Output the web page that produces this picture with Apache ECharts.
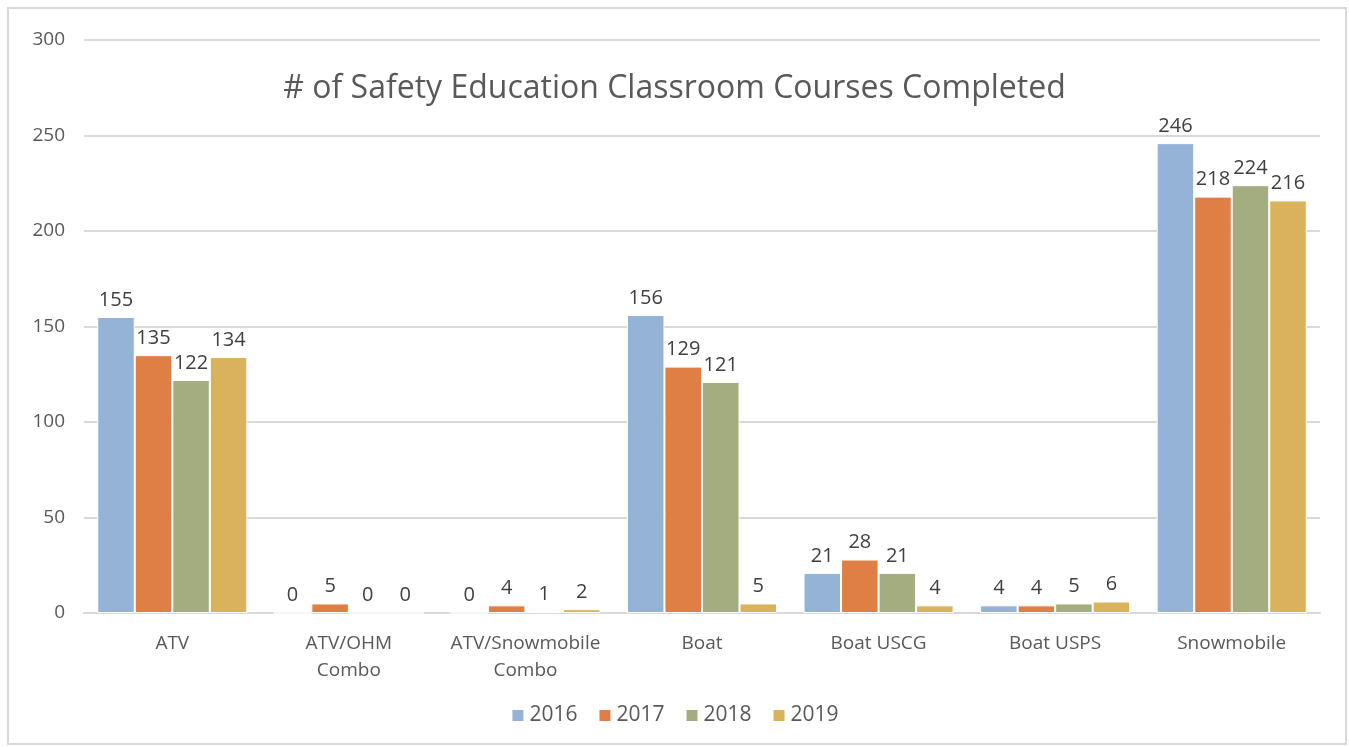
<!DOCTYPE html>
<html>
<head>
<meta charset="utf-8">
<script src="https://cdn.jsdelivr.net/npm/echarts@6/dist/echarts.min.js"></script>
<style>
  html, body { margin: 0; padding: 0; background: #fff; }
  #main { width: 1349px; height: 747px; }
</style>
</head>
<body>
<div id="main"></div>
<script>
// 类目与各年数据
var categories = ['ATV', 'ATV/OHM\nCombo', 'ATV/Snowmobile\nCombo', 'Boat', 'Boat USCG', 'Boat USPS', 'Snowmobile'];
var years = ['2016', '2017', '2018', '2019'];
var data2016 = [155, 0, 0, 156, 21, 4, 246];
var data2017 = [135, 5, 4, 129, 28, 4, 218];
var data2018 = [122, 0, 1, 121, 21, 5, 224];
var data2019 = [134, 0, 2, 5, 4, 6, 216];
var colors = ['#95b3d7', '#e07f45', '#a4ad7f', '#d9b25b'];

var font = '"Open Sans", "DejaVu Sans", sans-serif';
var textColor = '#595959';

function makeSeries(name, values, idx) {
    return {
        name: name,
        type: 'bar',
        data: values,
        barGap: '0%',
        barCategoryGap: '15%',
        itemStyle: { color: colors[idx], borderColor: '#ffffff', borderWidth: 1 },
        label: {
            show: true,
            position: 'top',
            distance: 7,
            color: '#404040',
            fontFamily: font,
            fontSize: 20
        }
    };
}

var chart = echarts.init(document.getElementById('main'));
chart.setOption({
    animation: false,
    color: colors,
    title: {
        text: '# of Safety Education Classroom Courses Completed',
        left: 'center',
        top: 68,
        textStyle: { color: textColor, fontFamily: font, fontSize: 32, fontWeight: 'normal' }
    },
    legend: {
        bottom: 16,
        left: 'center',
        itemWidth: 13,
        itemHeight: 13,
        itemGap: 20,
        icon: 'rect',
        textStyle: { color: textColor, fontFamily: font, fontSize: 21 }
    },
    grid: { left: 84, right: 29, top: 40, bottom: 134, containLabel: false },
    xAxis: {
        type: 'category',
        data: categories,
        axisTick: { show: false },
        axisLine: { lineStyle: { color: '#d9d9d9', width: 2 } },
        axisLabel: { color: textColor, fontFamily: font, fontSize: 19, margin: 17, lineHeight: 27, interval: 0 }
    },
    yAxis: {
        type: 'value',
        min: 0,
        max: 300,
        interval: 50,
        axisLine: { show: false },
        axisTick: { show: false },
        splitLine: { lineStyle: { color: '#d9d9d9', width: 2 } },
        axisLabel: { color: textColor, fontFamily: font, fontSize: 19, margin: 19 }
    },
    graphic: [{
        type: 'rect',
        shape: { x: 8, y: 8, width: 1338, height: 736 },
        style: { fill: 'none', stroke: '#d9d9d9', lineWidth: 2 },
        silent: true
    }],
    series: [
        makeSeries(years[0], data2016, 0),
        makeSeries(years[1], data2017, 1),
        makeSeries(years[2], data2018, 2),
        makeSeries(years[3], data2019, 3)
    ]
});
</script>
</body>
</html>
